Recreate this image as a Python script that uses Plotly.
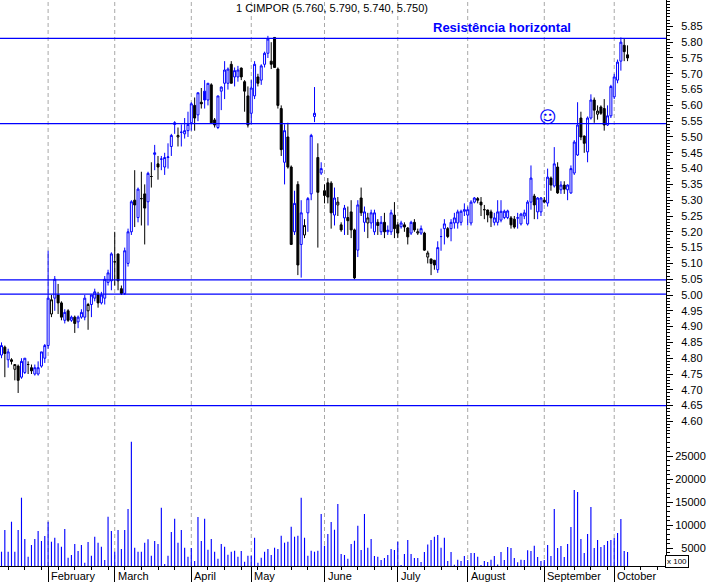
import plotly.graph_objects as go

# ---------------- data ----------------
opens = [4.81, 4.835, 4.795, 4.795, 4.765, 4.775, 4.74, 4.755, 4.78, 4.77,
         4.75, 4.75, 4.775, 4.80, 4.84, 4.94, 4.99, 5.00, 4.975, 4.92,
         4.95, 4.92, 4.93, 4.915, 4.93, 4.93, 4.95, 4.97, 4.99, 5.00,
         4.975, 4.99, 5.04, 5.045, 5.105, 5.13, 5.02, 5.005, 5.10, 5.20,
         5.30, 5.245, 5.305, 5.32, 5.295, 5.375, 5.445, 5.415, 5.43, 5.405,
         5.435, 5.47, 5.545, 5.50, 5.515, 5.51, 5.52, 5.545, 5.60, 5.57,
         5.61, 5.645, 5.617, 5.665, 5.554, 5.53, 5.645, 5.67, 5.67, 5.73,
         5.69, 5.69, 5.718, 5.675, 5.63, 5.575, 5.63, 5.69, 5.68, 5.73,
         5.765, 5.74, 5.815, 5.715, 5.59, 5.42, 5.50, 5.405, 5.20, 5.35,
         5.16, 5.19, 5.26, 5.32, 5.565, 5.435, 5.386, 5.33, 5.355, 5.354,
         5.253, 5.285, 5.222, 5.244, 5.245, 5.263, 5.206, 5.142, 5.307, 5.23,
         5.228, 5.228, 5.20, 5.23, 5.20, 5.23, 5.20, 5.20, 5.253, 5.222,
         5.216, 5.222, 5.212, 5.196, 5.23, 5.196, 5.196, 5.196, 5.12, 5.114,
         5.11, 5.08, 5.185, 5.21, 5.21, 5.21, 5.228, 5.228, 5.23, 5.265,
         5.253, 5.228, 5.294, 5.305, 5.294, 5.27, 5.269, 5.263, 5.23, 5.23,
         5.237, 5.245, 5.245, 5.244, 5.24, 5.244, 5.225, 5.25, 5.225, 5.294,
         5.313, 5.263, 5.263, 5.30, 5.291, 5.37, 5.345, 5.405, 5.333, 5.348,
         5.333, 5.323, 5.386, 5.443, 5.56, 5.503, 5.453, 5.56, 5.617, 5.572,
         5.595, 5.59, 5.538, 5.567, 5.627, 5.68, 5.74, 5.79, 5.76]
highs = [4.85, 4.84, 4.83, 4.80, 4.78, 4.78, 4.80, 4.80, 4.79, 4.78,
         4.78, 4.79, 4.82, 4.845, 5.14, 5.00, 5.06, 5.035, 4.98, 4.955,
         4.955, 4.935, 4.935, 4.935, 4.955, 5.00, 4.975, 5.00, 5.02, 5.01,
         5.01, 5.06, 5.08, 5.135, 5.20, 5.13, 5.03, 5.15, 5.21, 5.30,
         5.395, 5.34, 5.39, 5.35, 5.39, 5.42, 5.475, 5.44, 5.44, 5.45,
         5.48, 5.51, 5.55, 5.53, 5.54, 5.56, 5.58, 5.61, 5.625, 5.64,
         5.655, 5.68, 5.67, 5.67, 5.56, 5.63, 5.66, 5.74, 5.72, 5.74,
         5.72, 5.725, 5.72, 5.68, 5.66, 5.68, 5.74, 5.70, 5.73, 5.77,
         5.82, 5.80, 5.815, 5.72, 5.60, 5.54, 5.545, 5.41, 5.33, 5.36,
         5.30, 5.24, 5.31, 5.51, 5.658, 5.48, 5.42, 5.35, 5.37, 5.36,
         5.34, 5.31, 5.23, 5.285, 5.28, 5.30, 5.21, 5.30, 5.34, 5.28,
         5.26, 5.27, 5.27, 5.24, 5.25, 5.26, 5.22, 5.27, 5.294, 5.23,
         5.235, 5.23, 5.215, 5.235, 5.24, 5.21, 5.22, 5.20, 5.14, 5.115,
         5.11, 5.17, 5.21, 5.24, 5.215, 5.24, 5.26, 5.27, 5.27, 5.29,
         5.28, 5.30, 5.31, 5.31, 5.31, 5.285, 5.27, 5.27, 5.26, 5.30,
         5.30, 5.27, 5.27, 5.25, 5.25, 5.26, 5.26, 5.27, 5.30, 5.41,
         5.32, 5.31, 5.31, 5.31, 5.40, 5.375, 5.468, 5.42, 5.36, 5.36,
         5.35, 5.41, 5.49, 5.61, 5.58, 5.505, 5.565, 5.635, 5.625, 5.60,
         5.60, 5.62, 5.60, 5.665, 5.70, 5.745, 5.815, 5.81, 5.79]
lows = [4.80, 4.74, 4.77, 4.78, 4.73, 4.69, 4.735, 4.75, 4.75, 4.75,
        4.745, 4.745, 4.77, 4.785, 4.83, 4.93, 4.95, 4.94, 4.92, 4.91,
        4.915, 4.915, 4.88, 4.895, 4.925, 4.92, 4.89, 4.93, 4.98, 4.96,
        4.97, 4.97, 5.03, 5.015, 5.03, 5.015, 5.00, 5.00, 5.09, 5.19,
        5.215, 5.23, 5.22, 5.16, 5.22, 5.34, 5.395, 5.365, 5.395, 5.38,
        5.40, 5.44, 5.51, 5.47, 5.47, 5.495, 5.50, 5.52, 5.52, 5.55,
        5.59, 5.59, 5.60, 5.545, 5.53, 5.525, 5.585, 5.62, 5.65, 5.67,
        5.66, 5.675, 5.68, 5.58, 5.53, 5.54, 5.62, 5.66, 5.665, 5.72,
        5.75, 5.715, 5.72, 5.59, 5.44, 5.35, 5.40, 5.16, 5.19, 5.063,
        5.055, 5.18, 5.20, 5.30, 5.547, 5.15, 5.38, 5.29, 5.29, 5.21,
        5.22, 5.25, 5.20, 5.19, 5.19, 5.18, 5.05, 5.12, 5.25, 5.20,
        5.18, 5.21, 5.19, 5.19, 5.19, 5.18, 5.19, 5.19, 5.18, 5.18,
        5.21, 5.20, 5.16, 5.19, 5.20, 5.19, 5.19, 5.14, 5.10, 5.063,
        5.08, 5.07, 5.14, 5.16, 5.18, 5.17, 5.21, 5.21, 5.22, 5.25,
        5.22, 5.22, 5.29, 5.29, 5.25, 5.24, 5.23, 5.215, 5.22, 5.22,
        5.23, 5.24, 5.24, 5.21, 5.21, 5.21, 5.22, 5.24, 5.22, 5.27,
        5.24, 5.24, 5.25, 5.29, 5.28, 5.33, 5.34, 5.32, 5.32, 5.32,
        5.30, 5.32, 5.38, 5.44, 5.49, 5.45, 5.42, 5.555, 5.545, 5.555,
        5.57, 5.52, 5.535, 5.56, 5.62, 5.67, 5.71, 5.74, 5.74]
closes = [4.84, 4.815, 4.82, 4.79, 4.78, 4.73, 4.79, 4.80, 4.78, 4.76,
          4.77, 4.77, 4.82, 4.84, 4.99, 4.985, 5.05, 4.975, 4.93, 4.945,
          4.92, 4.93, 4.91, 4.93, 4.945, 4.99, 4.97, 5.00, 5.01, 4.975,
          5.00, 5.05, 5.07, 5.13, 5.105, 5.045, 5.005, 5.14, 5.20, 5.295,
          5.285, 5.335, 5.305, 5.275, 5.385, 5.375, 5.45, 5.405, 5.43, 5.435,
          5.437, 5.505, 5.54, 5.505, 5.515, 5.52, 5.54, 5.605, 5.56, 5.64,
          5.605, 5.617, 5.67, 5.545, 5.538, 5.63, 5.658, 5.712, 5.715, 5.67,
          5.71, 5.712, 5.69, 5.645, 5.538, 5.655, 5.73, 5.67, 5.725, 5.765,
          5.81, 5.73, 5.72, 5.60, 5.46, 5.52, 5.405, 5.16, 5.29, 5.095,
          5.26, 5.22, 5.305, 5.505, 5.575, 5.325, 5.40, 5.315, 5.31, 5.26,
          5.307, 5.294, 5.206, 5.275, 5.235, 5.206, 5.054, 5.285, 5.26, 5.263,
          5.244, 5.26, 5.26, 5.22, 5.23, 5.20, 5.205, 5.26, 5.21, 5.196,
          5.228, 5.215, 5.184, 5.23, 5.206, 5.20, 5.21, 5.142, 5.133, 5.10,
          5.095, 5.15, 5.185, 5.225, 5.185, 5.23, 5.244, 5.263, 5.265, 5.27,
          5.27, 5.294, 5.307, 5.30, 5.285, 5.27, 5.253, 5.244, 5.244, 5.263,
          5.265, 5.265, 5.266, 5.222, 5.215, 5.244, 5.256, 5.26, 5.294, 5.37,
          5.285, 5.307, 5.307, 5.294, 5.373, 5.348, 5.415, 5.323, 5.348, 5.335,
          5.348, 5.40, 5.484, 5.538, 5.50, 5.48, 5.56, 5.617, 5.585, 5.582,
          5.575, 5.538, 5.567, 5.66, 5.69, 5.737, 5.80, 5.77, 5.75]
volume = [4260, 8980, 4260, 10780, 4260, 8980, 16000, 7020, 3170, 5720,
          7020, 8760, 6590, 7670, 10780, 6430, 7300, 6090, 5350, 9200,
          2960, 3540, 5930, 4410, 5720, 1870, 6370, 3390, 7520, 6220,
          5350, 2460, 11870, 8760, 4260, 8980, 4850, 8980, 13540, 28170,
          5130, 4260, 4260, 6220, 6960, 3390, 6590, 5930, 13830, 1590,
          3390, 8540, 11430, 6220, 8980, 5130, 3170, 5070, 2240, 11800,
          6590, 11430, 4700, 7020, 4260, 2740, 5930, 5350, 3610, 4260,
          4480, 3170, 4410, 2090, 3390, 3390, 7300, 1870, 2960, 4260,
          4850, 3540, 5130, 4850, 7740, 6220, 6430, 9700, 7520, 7740,
          16000, 7300, 3390, 4480, 4260, 4480, 12460, 5570, 8110, 10720,
          9040, 14630, 3760, 3540, 2740, 5930, 6650, 9910, 4630, 12460,
          5130, 7020, 3330, 3170, 2460, 2890, 3540, 4850, 4630, 6430,
          1370, 3760, 6800, 3760, 2890, 2890, 2020, 4200, 5800, 6800,
          7520, 7890, 5130, 7300, 2240, 4200, 1440, 2530, 2240, 3330,
          2460, 3980, 3980, 3170, 1370, 2240, 2020, 2530, 3330, 1500,
          4200, 2460, 5280, 5070, 2890, 1960, 2530, 2460, 4560, 4410,
          5570, 3100, 2240, 2460, 5720, 3330, 13540, 5070, 5500, 3100,
          5930, 9630, 17670, 17240, 7020, 3980, 8110, 13980, 5070, 6800,
          5280, 5720, 6590, 6800, 7240, 8330, 11370, 4410, 4200]

month_start = [14, 34, 57, 75, 97, 119, 140, 163, 184]
month_names = ["February", "March", "April", "May", "June", "July",
               "August", "September", "October"]
levels = [5.812, 5.542, 5.048, 5.003, 4.65]
price_ticks = [round(4.60 + 0.05 * k, 2) for k in range(26)]
vol_ticks = [5000, 10000, 15000, 20000, 25000]
title_text = "1 CIMPOR (5.760, 5.790, 5.740, 5.750)"
note_text = "Resistência horizontal"

# ---------------- figure ----------------
BLUE = "#0000FF"
BLACK = "#000000"
FONT = "Liberation Sans, Arial, sans-serif"

n = len(closes)
days = list(range(n))
blue_days = [i for i in days if i == 0 or closes[i] >= closes[i - 1]]
black_days = [i for i in days if i not in blue_days]


def pick(arr, sel):
    return [arr[i] for i in sel]


fig = go.Figure()
fig.add_trace(go.Candlestick(
    x=blue_days, open=pick(opens, blue_days), high=pick(highs, blue_days),
    low=pick(lows, blue_days), close=pick(closes, blue_days),
    increasing=dict(line=dict(color=BLUE, width=1), fillcolor="#FFFFFF"),
    decreasing=dict(line=dict(color=BLUE, width=1), fillcolor=BLUE),
    whiskerwidth=0, xaxis="x", yaxis="y", hoverinfo="skip"))
fig.add_trace(go.Candlestick(
    x=black_days, open=pick(opens, black_days), high=pick(highs, black_days),
    low=pick(lows, black_days), close=pick(closes, black_days),
    increasing=dict(line=dict(color=BLACK, width=1), fillcolor="#FFFFFF"),
    decreasing=dict(line=dict(color=BLACK, width=1), fillcolor=BLACK),
    whiskerwidth=0, xaxis="x", yaxis="y", hoverinfo="skip"))
fig.add_trace(go.Bar(x=days, y=volume, width=0.34, marker=dict(color=BLUE, line=dict(width=0)),
                     xaxis="x", yaxis="y2", hoverinfo="skip"))

split = (566 - 432) / 566.0

fig.update_layout(
    width=707, height=582,
    margin=dict(l=0, r=41, t=0, b=16),
    paper_bgcolor="white", plot_bgcolor="white",
    showlegend=False, boxgap=0.15,
    font=dict(family=FONT, size=11, color="black"),
    xaxis=dict(range=[-0.45, 199.55], anchor="y2", showgrid=False, zeroline=False,
               showline=True, linecolor="black", linewidth=1,
               ticks="outside", tickvals=month_start, ticklen=16, tickcolor="black",
               showticklabels=False,
               minor=dict(tickvals=list(range(2, n + 10, 5)), ticks="outside",
                          ticklen=3, tickcolor="black"),
               rangeslider=dict(visible=False)),
    yaxis=dict(domain=[split, 1], range=[4.5665, 5.9335], side="right",
               tickvals=price_ticks, ticktext=["%.2f" % v for v in price_ticks],
               ticks="outside", ticklen=6, tickcolor="black",
               showline=True, linecolor="black", linewidth=1,
               showgrid=False, zeroline=False, ticklabelstandoff=6,
               minor=dict(dtick=0.01, tick0=4.60, ticks="outside", ticklen=3,
                          tickcolor="black")),
    yaxis2=dict(domain=[0, split], range=[1152, 30280], side="right", anchor="x",
                tickvals=vol_ticks,
                ticktext=[("\u2007" if v < 10000 else "") + str(v) for v in vol_ticks],
                ticks="outside", ticklen=6, tickcolor="black",
                showline=True, linecolor="black", linewidth=1,
                showgrid=False, zeroline=False, ticklabelstandoff=0,
                minor=dict(dtick=1000, tick0=0, ticks="outside", ticklen=3,
                           tickcolor="black")),
)

shapes = []
for m in month_start:
    shapes.append(dict(type="line", xref="x", yref="paper", x0=m, x1=m, y0=0, y1=1,
                       line=dict(color="#A8A8A8", width=1, dash="4px,3px"), layer="below"))
for lv in levels:
    shapes.append(dict(type="line", xref="paper", yref="y", x0=0, x1=1, y0=lv, y1=lv,
                       line=dict(color=BLUE, width=1.3)))
fig.update_layout(shapes=shapes)

ann = []
for m, name in zip(month_start, month_names):
    ann.append(dict(x=m, y=0, xref="x", yref="paper", text=name, showarrow=False,
                    xanchor="left", yanchor="top", xshift=1, yshift=-2,
                    font=dict(family=FONT, size=11, color="black")))
ann.append(dict(x=332 / 666, y=1 - 8 / 566, xref="paper", yref="paper", text=title_text,
                showarrow=False, xanchor="center", yanchor="middle",
                font=dict(family=FONT, size=11, color="black")))
ann.append(dict(x=501.5 / 666, y=1 - 27 / 566, xref="paper", yref="paper",
                text="<b>" + note_text + "</b>", showarrow=False,
                xanchor="center", yanchor="middle",
                font=dict(family=FONT, size=13, color=BLUE)))
ann.append(dict(x=548 / 666, y=1 - 117 / 566, xref="paper", yref="paper", text="\u263A",
                showarrow=False, xanchor="center", yanchor="middle",
                font=dict(family="DejaVu Sans", size=17, color=BLUE)))
ann.append(dict(x=677 / 666, y=1 - 561 / 566, xref="paper", yref="paper", text="x 100",
                showarrow=False, xanchor="center", yanchor="middle",
                bordercolor="black", borderwidth=1, borderpad=1, bgcolor="white",
                font=dict(family=FONT, size=8, color="black")))
fig.update_layout(annotations=ann)

fig.write_html("out.html",
               config={"displayModeBar": False, "staticPlot": True},
               post_script="document.body.style.margin='0px';"
                           "document.body.style.overflow='hidden';")
